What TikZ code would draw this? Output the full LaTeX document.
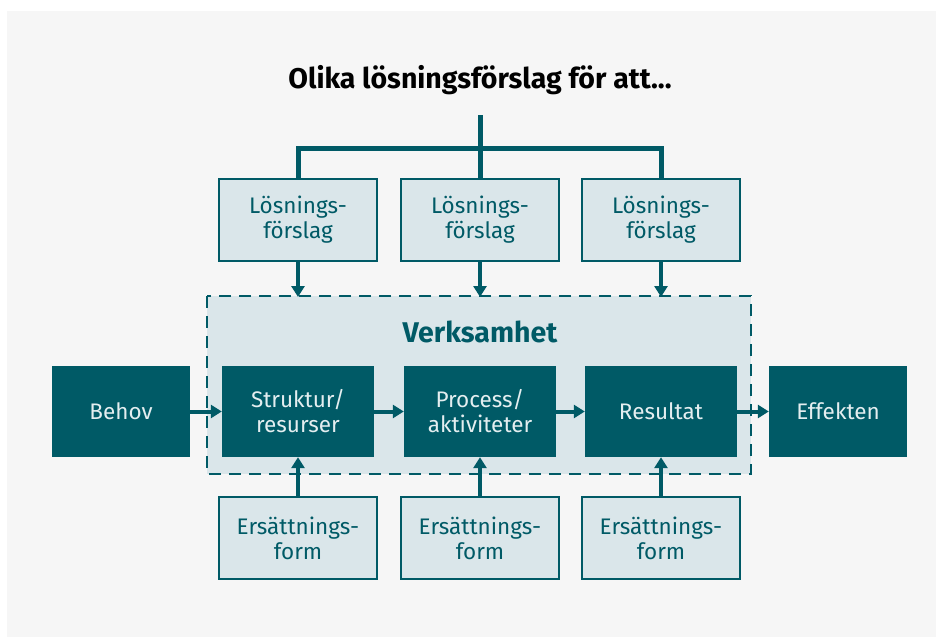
\documentclass[tikz,border=0pt]{standalone}
\usepackage{fontspec}
\setmainfont{Fira Sans}
\usetikzlibrary{arrows.meta}
\definecolor{teal}{HTML}{005A66}
\definecolor{lightbox}{HTML}{DAE6EA}
\definecolor{bggray}{HTML}{F6F6F6}
\definecolor{paletext}{HTML}{E4EEF0}
\begin{document}
\begin{tikzpicture}[x=1pt,y=-1pt,
  lightnode/.style={draw=teal,line width=2.5pt,fill=lightbox,text=teal,minimum width=158pt,minimum height=82pt,align=center,font=\fontsize{22.5}{25}\selectfont,inner sep=0pt},
  darknode/.style={fill=teal,text=paletext,minimum width=152pt,minimum height=91pt,align=center,font=\fontsize{22.5}{25}\selectfont,inner sep=0pt},
  arr/.style={teal,line width=4pt,-{Triangle[width=13pt,length=11pt]}},
  bracket/.style={teal,line width=5pt}]
\useasboundingbox (0,0) rectangle (940,642);
\fill[bggray] (7,11) rectangle (936,637);
% dashed frame
\draw[teal,fill=lightbox,line width=2.5pt,dash pattern=on 12pt off 8pt] (207,296) rectangle (751,474);
\node[font=\bfseries\fontsize{28.5}{32}\selectfont,text=teal] (verk) at (480,332) {Verksamhet};
\node[font=\bfseries\fontsize{28.5}{32}\selectfont,text=black] (title) at (480,80) {Olika lösningsförslag för att...};
% top boxes
\node[lightnode] (l1) at (298,220) {Lösnings-\\förslag};
\node[lightnode] (l2) at (480,220) {Lösnings-\\förslag};
\node[lightnode] (l3) at (661,220) {Lösnings-\\förslag};
% bottom boxes
\node[lightnode] (e1) at (298,538) {Ersättnings-\\form};
\node[lightnode] (e2) at (480,538) {Ersättnings-\\form};
\node[lightnode] (e3) at (661,538) {Ersättnings-\\form};
% dark boxes
\node[darknode,minimum width=138pt] (behov) at (121,411.5) {Behov};
\node[darknode] (s) at (298,411.5) {Struktur/\\resurser};
\node[darknode] (p) at (480,411.5) {Process/\\aktiviteter};
\node[darknode] (r) at (661,411.5) {Resultat};
\node[darknode,minimum width=138pt] (eff) at (838,411.5) {Effekten};
% bracket
\coordinate (top) at (480,115);
\coordinate (bl) at (298,148);
\coordinate (br) at (661,148);
\draw[bracket] (top) -- (l2.north);
\draw[bracket] (l1.north) -- (bl) -- (br) -- (l3.north);
% down arrows
\draw[arr] (l1.south) -- (298,297);
\draw[arr] (l2.south) -- (480,297);
\draw[arr] (l3.south) -- (661,297);
% up arrows
\draw[arr] (e1.north) -- (s.south);
\draw[arr] (e2.north) -- (p.south);
\draw[arr] (e3.north) -- (r.south);
% horizontal arrows
\draw[arr] (behov.east) -- (s.west);
\draw[arr] (s.east) -- (p.west);
\draw[arr] (p.east) -- (r.west);
\draw[arr] (r.east) -- (eff.west);
\end{tikzpicture}
\end{document}
